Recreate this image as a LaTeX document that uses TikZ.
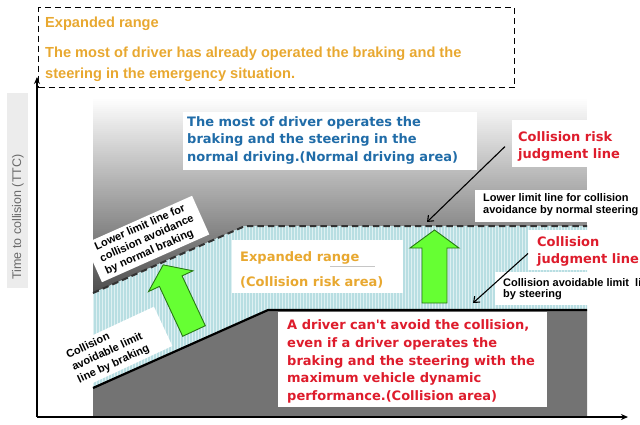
\documentclass[tikz,border=0pt]{standalone}
\usepackage{fontspec}
\setmainfont{Liberation Sans}
\newfontfamily\dejavu{DejaVu Sans}
\usetikzlibrary{arrows.meta,patterns}
\definecolor{orng}{RGB}{232,168,48}
\definecolor{bluetxt}{RGB}{32,108,168}
\definecolor{redtxt}{RGB}{222,28,44}
\definecolor{cyanfill}{RGB}{184,222,226}
\definecolor{cyanstripe}{RGB}{222,240,242}
\definecolor{darkarea}{RGB}{115,115,115}
\definecolor{greenfill}{RGB}{102,255,51}
\definecolor{greenline}{RGB}{40,120,20}
\definecolor{labelbg}{RGB}{236,236,236}
\definecolor{labeltxt}{RGB}{105,105,105}
\definecolor{dashgray}{RGB}{50,50,50}
\begin{document}
\begin{tikzpicture}[x=1pt,y=-1pt,
  txt/.style={inner sep=0pt, anchor=north west, align=left},
  djv/.style={font={\dejavu\bfseries\fontsize{13}{#1}\selectfont}},
  smallb/.style={font={\bfseries\fontsize{11}{#1}\selectfont}},
  rotbox/.style={fill=white, align=left, inner ysep=3pt},
  limitdash/.style={draw=dashgray, line width=2pt, dash pattern=on 6.5pt off 4pt},
  limitsolid/.style={draw=black, line width=2.2pt},
  greenarrow/.style={fill=greenfill, draw=greenline, line width=0.9pt, line join=miter},
  axis/.style={line width=1.6pt, -{Stealth[length=7pt,width=6pt]}},
  conn/.style={line width=1.1pt, -{Straight Barb[length=5pt,width=8pt]}},
  framebox/.style={draw=black, line width=1.3pt, dash pattern=on 6pt off 4pt}]
\useasboundingbox (0,0) rectangle (640,424);

% y-axis label
\fill[labelbg] (7,93) rectangle (28,288);
\node[rotate=90, text=labeltxt, font={\fontsize{12.5}{14}\selectfont}] (ylab) at (18,217) {Time to collision (TTC)};

% normal driving area: vertical gradient, white at top to dark grey at the bottom
\begin{scope}
  \clip (93,97) -- (587,97) -- (587,226) -- (245,226) -- (93,293) -- cycle;
  \foreach \i in {0,...,98}{
    \pgfmathsetmacro{\p}{70*\i/98}
    \fill[black!\p] (93,{97+2*\i}) rectangle (587,{99.6+2*\i});
  }
\end{scope}
% expanded range (collision risk area)
\fill[cyanfill] (93,293) -- (245,226) -- (587,226) -- (587,310) -- (268,310) -- (93,388) -- cycle;
\fill[pattern=vertical lines, pattern color=cyanstripe] (93,293) -- (245,226) -- (587,226) -- (587,310) -- (268,310) -- (93,388) -- cycle;
% collision area
\fill[darkarea] (93,388) -- (268,310) -- (587,310) -- (587,417) -- (93,417) -- cycle;

% white label boxes
\fill[white] (183,112) rectangle (477,170);
\fill[white] (512,120) rectangle (640,167);
\fill[white] (475,190) rectangle (640,222);
\fill[white] (528,230) rectangle (640,270);
\fill[white] (495,272) rectangle (640,305);
\fill[white] (232,240) rectangle (403,293);
\fill[white] (278,312) rectangle (547,407);

% rotated labels
\node[rotbox, rotate=24, inner xsep=8pt, smallb=13] (lbrk) at (147,239) {Lower limit line for\\collision avoidance\\by normal braking};
\node[rotbox, rotate=25, inner xsep=22pt, smallb=13.5] (cbrk) at (108,352) {Collision\\avoidable limit\\line by braking};

% limit lines
\draw[limitdash] (93,293) -- (245,226) -- (587,226);
\draw[limitsolid] (93,388) -- (268,310) -- (587,310);

% green arrows
\begin{scope}[shift={(434.5,303)}]
  \draw[greenarrow] (-12.5,0) -- (-12.5,-55) -- (-24.5,-55) -- (0,-73) -- (24.5,-55) -- (12.5,-55) -- (12.5,0) -- cycle;
\end{scope}
\begin{scope}[shift={(194,331)}, rotate=25]
  \draw[greenarrow] (-12.5,0) -- (-12.5,-55) -- (-24.5,-55) -- (0,-73) -- (24.5,-55) -- (12.5,-55) -- (12.5,0) -- cycle;
\end{scope}

% top dashed box
\node[framebox, anchor=north west, inner sep=0pt, minimum width=476pt, minimum height=80pt] (topbox) at (38,7) {};
\node[txt, text=orng, font={\bfseries\fontsize{14.6}{20.4}\selectfont}] (toptitle) at (45,16.5) {Expanded range};
\node[txt, text=orng, font={\bfseries\fontsize{14.6}{20.4}\selectfont}] (topbody) at (45,47.2) {The most of driver has already operated the braking and the\\steering in the emergency situation.};

% texts
\node[txt, text=bluetxt, djv=17.5] (normal) at (187,116.3) {The most of driver operates the\\braking and the steering in the\\normal driving.(Normal driving area)};
\node[txt, text=redtxt, djv=17] (crj) at (518,131.5) {Collision risk\\judgment line};
\node[txt, smallb=11.7] (lsteer) at (483,193.7) {Lower limit line for collision\\avoidance by normal steering};
\node[txt, text=redtxt, djv=17.3] (cj) at (537,236.3) {Collision\\judgment line};
\node[txt, smallb=11.7] (csteer) at (503,278) {Collision avoidable limit\ \ li\\by steering};
\node[txt, text=orng, djv=25.5] (expand) at (240,251.3) {Expanded range\\(Collision risk area)};
\draw[gray!45, line width=0.6pt] (330,266) -- (375,266);
\node[txt, text=redtxt, djv=17.7] (carea) at (287,319.6) {A driver can't avoid the collision,\\even if a driver operates the\\braking and the steering with the\\maximum vehicle dynamic\\performance.(Collision area)};

% axes
\coordinate (origin) at (37,417);
\coordinate (ytop) at (37,77);
\coordinate (xend) at (628,417);
\draw[axis] (origin) -- (ytop);
\draw[axis] (origin) -- (xend);

% connectors
\coordinate (riskpt) at (427,222);
\coordinate (judgpt) at (473,303);
\draw[conn] ([xshift=-13pt]crj.west) -- (riskpt);
\draw[conn] ([xshift=-9pt,yshift=-2pt]cj.west) -- (judgpt);
\end{tikzpicture}
\end{document}
